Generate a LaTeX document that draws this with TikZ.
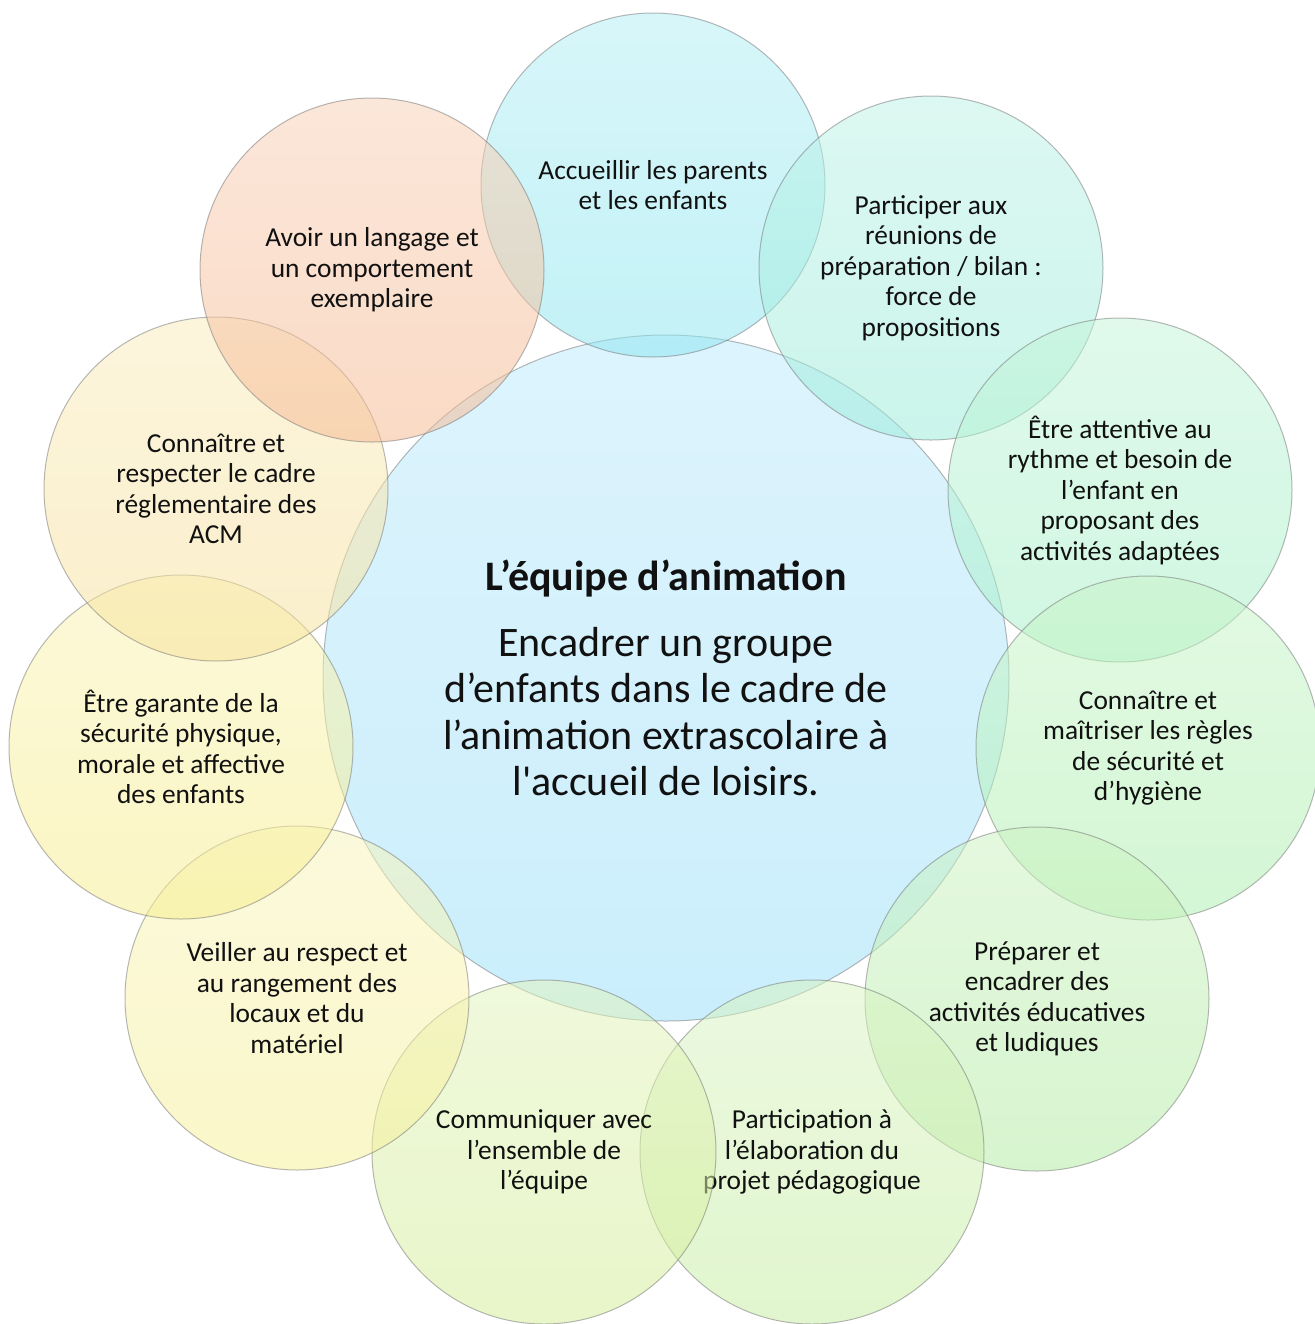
\documentclass[tikz,border=0pt]{standalone}
\usepackage{fontspec}
\setmainfont{Carlito}
\definecolor{c1}{RGB}{140,230,240}
\definecolor{c2}{RGB}{155,236,218}
\definecolor{c3}{RGB}{165,240,198}
\definecolor{c4}{RGB}{172,240,174}
\definecolor{c5}{RGB}{178,236,162}
\definecolor{c6}{RGB}{198,238,162}
\definecolor{c7}{RGB}{212,238,152}
\definecolor{c8}{RGB}{246,240,152}
\definecolor{c9}{RGB}{248,238,142}
\definecolor{c10}{RGB}{248,226,155}
\definecolor{c11}{RGB}{246,185,145}
\definecolor{c0}{RGB}{160,225,250}
\definecolor{txt}{RGB}{17,17,17}
\tikzset{
  bubble/.style={circle, minimum size=172pt, inner sep=0pt,
    top color=#1!65!white, bottom color=#1,
    fill opacity=0.52, text opacity=1,
    draw=black!55, draw opacity=0.5, line width=0.5pt,
    align=center, text=txt,
    font=\fontsize{13.7pt}{15.25pt}\selectfont},
  hub/.style={circle, minimum size=343pt, inner sep=0pt,
    top color=c0!65!white, bottom color=c0,
    fill opacity=0.55, text opacity=1,
    draw=black!55, draw opacity=0.5, line width=0.5pt,
    align=center, text=txt,
    font=\fontsize{21pt}{23.3pt}\selectfont}
}
\begin{document}
\begin{tikzpicture}[x=0.5pt,y=-0.5pt]
\useasboundingbox[fill=white] (0,0) rectangle (1315,1324);
\node[hub] (center) at (666,678) {{\bfseries L’équipe d’animation}\\[9.5pt]
Encadrer un groupe\\ d’enfants dans le cadre de\\ l’animation extrascolaire à\\ l\textquotesingle accueil de loisirs.};
\node[bubble=c1] (b1) at (653,185) {Accueillir les parents\\ et les enfants};
\node[bubble=c2] (b2) at (931,268) {Participer aux\\ réunions de\\ préparation / bilan :\\ force de\\ propositions};
\node[bubble=c3] (b3) at (1120,490) {Être attentive au\\ rythme et besoin de\\ l’enfant en\\ proposant des\\ activités adaptées};
\node[bubble=c4] (b4) at (1148,748) {Connaître et\\ maîtriser les règles\\ de sécurité et\\ d’hygiène};
\node[bubble=c5] (b5) at (1037,999) {Préparer et\\ encadrer des\\ activités éducatives\\ et ludiques};
\node[bubble=c6] (b6) at (812,1152) {Participation à\\ l’élaboration du\\ projet pédagogique};
\node[bubble=c7] (b7) at (544,1152) {Communiquer avec\\ l’ensemble de\\ l’équipe};
\node[bubble=c8] (b8) at (297,998) {Veiller au respect et\\ au rangement des\\ locaux et du\\ matériel};
\node[bubble=c9] (b9) at (181,747) {Être garante de la\\ sécurité physique,\\ morale et affective\\ des enfants};
\node[bubble=c10] (b10) at (216,489) {Connaître et\\ respecter le cadre\\ réglementaire des\\ ACM};
\node[bubble=c11] (b11) at (372,270) {Avoir un langage et\\ un comportement\\ exemplaire};
\end{tikzpicture}
\end{document}
